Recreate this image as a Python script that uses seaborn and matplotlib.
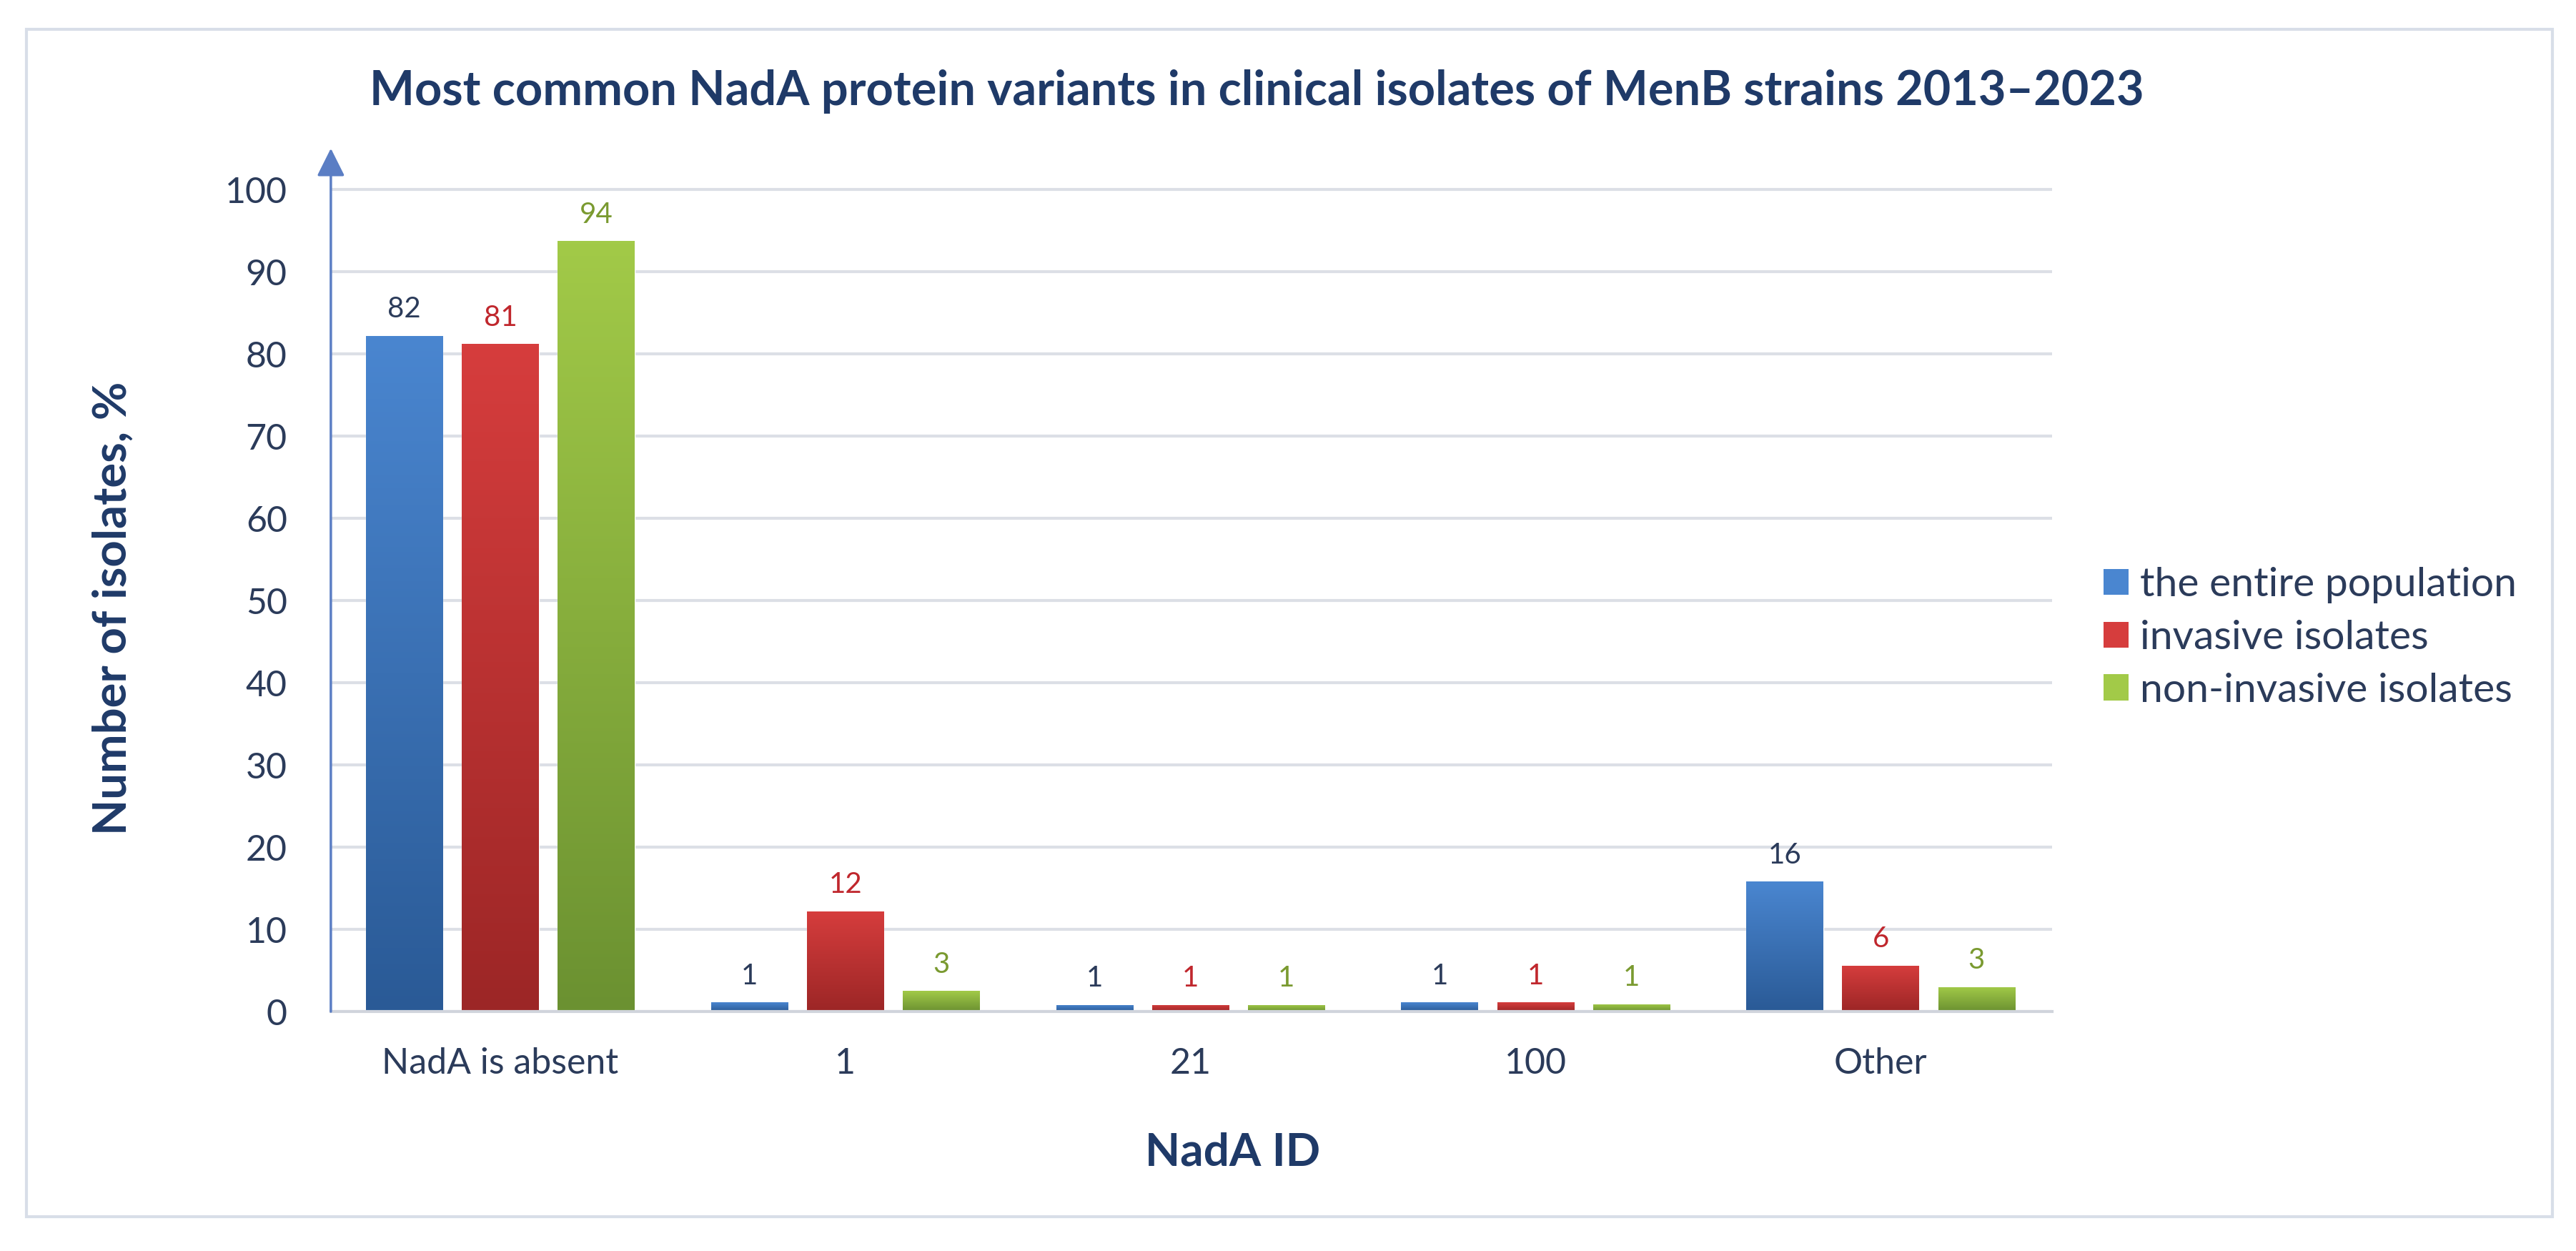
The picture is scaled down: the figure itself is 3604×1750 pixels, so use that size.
import numpy as np
import pandas as pd
import matplotlib
matplotlib.use('Agg')
import matplotlib.pyplot as plt
import seaborn as sns
from matplotlib.patches import Rectangle, Patch
from matplotlib.colors import LinearSegmentedColormap

# values (bar heights and the rounded labels shown)
categories = ['NadA is absent', '1', '21', '100', 'Other']
groups = ['the entire population', 'invasive isolates', 'non-invasive isolates']
entire = [82.2, 1.1, 0.8, 1.1, 15.8]
invasive = [81.2, 12.2, 0.8, 1.1, 5.6]
noninvasive = [93.7, 2.5, 0.8, 0.9, 3.0]
entire_lbl = ['82', '1', '1', '1', '16']
invasive_lbl = ['81', '12', '1', '1', '6']
noninvasive_lbl = ['94', '3', '1', '1', '3']

df = pd.DataFrame({
    'NadA ID': categories * 3,
    'group': [g for g in groups for _ in categories],
    'value': entire + invasive + noninvasive,
})
labels = entire_lbl + invasive_lbl + noninvasive_lbl

navy = '#1F3A68'
tick_col = '#2B3B5A'
top_cols = ['#4A86D0', '#D63D3D', '#A2CA48']
bot_cols = ['#2A5A96', '#9C2626', '#6B9131']
lbl_cols = ['#2B3B5A', '#C0272D', '#7A9A30']

sns.set_style('white')
plt.rcParams['font.family'] = ['Lato', 'DejaVu Sans']

fig = plt.figure(figsize=(36.05, 17.5), dpi=100)
ax = fig.add_axes([0.1284, 0.1914, 0.668, 0.69])

sns.barplot(data=df, x='NadA ID', y='value', hue='group', hue_order=groups,
            palette=top_cols, width=0.834, gap=0.2, ax=ax, legend=False,
            saturation=1)

# gradient fill on each bar
bars = [p for p in ax.patches if isinstance(p, Rectangle)]
grad = np.linspace(0, 1, 256).reshape(-1, 1)
for i, bar in enumerate(bars):
    gi = i // len(categories)
    cmap = LinearSegmentedColormap.from_list('g', [bot_cols[gi], top_cols[gi]])
    x0, y0 = bar.get_x(), bar.get_y()
    w, h = bar.get_width(), bar.get_height()
    im = ax.imshow(grad, extent=[x0, x0 + w, y0, y0 + h], origin='lower',
                   cmap=cmap, aspect='auto', zorder=bar.get_zorder() + 0.1)
    im.set_clip_path(bar)
    ax.text(x0 + w / 2, y0 + h + 1.6, labels[i], ha='center', va='bottom',
            fontsize=29, color=lbl_cols[gi])

ax.set_ylim(0, 105)
ax.set_xlim(-0.491, 4.497)

ax.set_yticks(range(0, 101, 10))
ax.yaxis.grid(True, color='#DCDFE6', linewidth=3)
ax.set_axisbelow(True)
ax.tick_params(axis='both', length=0, labelsize=36, labelcolor=tick_col)
ax.tick_params(axis='y', pad=44)
ax.tick_params(axis='x', pad=36)

for s in ['top', 'right', 'left']:
    ax.spines[s].set_visible(False)
ax.spines['bottom'].set_color('#D0D4DC')
ax.spines['bottom'].set_linewidth(3)

# y axis arrow
ax.annotate('', xy=(0, 1.0), xytext=(0, 0), xycoords='axes fraction',
            arrowprops=dict(arrowstyle='-|>,head_length=0.6,head_width=0.3',
                            color='#5B7EC4', lw=2.5, mutation_scale=40,
                            shrinkA=0, shrinkB=0))

ax.set_xlabel('NadA ID', fontsize=46, fontweight='bold', color=navy, va='center')
ax.xaxis.set_label_coords(0.4785, 0.0789, transform=fig.transFigure)
ax.set_ylabel('Number of isolates, %', fontsize=47, fontweight='bold', color=navy,
              va='center')
ax.yaxis.set_label_coords(0.0438, 0.514, transform=fig.transFigure)

fig.text(0.4877, 0.927, 'Most common NadA protein variants in clinical isolates of MenB strains 2013–2023',
         ha='center', va='center', fontsize=48, fontweight='bold', color=navy)

handles = [Patch(facecolor=c, edgecolor='none') for c in top_cols]
fig.legend(handles, groups, loc='center left', bbox_to_anchor=(0.8164, 0.49),
           frameon=False, fontsize=41, labelcolor=tick_col, handlelength=0.61,
           handleheight=0.61, handletextpad=0.28, labelspacing=0.4,
           borderpad=0, borderaxespad=0)

fig.patches.append(Rectangle((0.0103, 0.0274), 0.9803, 0.9492, transform=fig.transFigure,
                             fill=False, edgecolor='#D8DEE8', linewidth=3))

fig.savefig('out.png', dpi=100, facecolor='white')
